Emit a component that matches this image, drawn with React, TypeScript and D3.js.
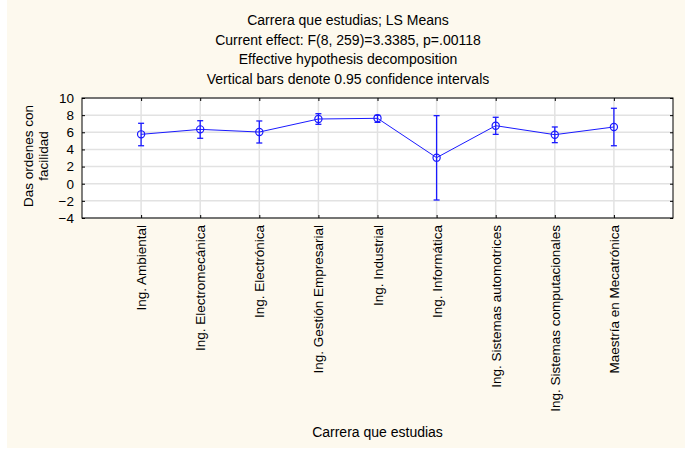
import React, { useEffect, useRef } from "react";
import * as d3 from "d3";

// categories + LS means with 0.95 CI
const carreras = [
  "Ing. Ambiental",
  "Ing. Electromecánica",
  "Ing. Electrónica",
  "Ing. Gestión Empresarial",
  "Ing. Industrial",
  "Ing. Informática",
  "Ing. Sistemas automotrices",
  "Ing. Sistemas computacionales",
  "Maestría en Mecatrónica",
];
const means = [5.76, 6.34, 6.03, 7.55, 7.63, 3.04, 6.77, 5.72, 6.62];
const upper = [7.05, 7.35, 7.32, 8.17, 7.98, 7.94, 7.75, 6.62, 8.8];
const lower = [4.43, 5.3, 4.75, 6.93, 7.16, -1.9, 5.76, 4.79, 4.43];
const yTicks = [-4, -2, 0, 2, 4, 6, 8, 10];
const titleLines = [
  "Carrera que estudias; LS Means",
  "Current effect: F(8, 259)=3.3385, p=.00118",
  "Effective hypothesis decomposition",
  "Vertical bars denote 0.95 confidence intervals",
];

export default function App() {
  const ref = useRef<SVGSVGElement>(null);

  useEffect(() => {
    const svg = d3.select(ref.current);
    svg.selectAll("*").remove();

    const width = 685;
    const height = 449;
    const margin = { top: 98, right: 12, bottom: 231, left: 82 };
    const w = width - margin.left - margin.right;
    const h = height - margin.top - margin.bottom;
    const font = "'Liberation Sans', Arial, sans-serif";
    const fs = 13.5;
    const blue = "#1a1aff";

    // cream background
    svg.append("rect")
      .attr("x", 7).attr("y", 0)
      .attr("width", width - 7).attr("height", 448)
      .attr("fill", "#fdf9ee");

    // titles (centred a bit left of the plot, like the original)
    svg.selectAll(".title")
      .data(titleLines)
      .enter().append("text")
      .attr("x", 348)
      .attr("y", (d, i) => 25 + i * 19.6)
      .attr("text-anchor", "middle")
      .attr("font-family", font)
      .attr("font-size", 14)
      .text(d => d);

    const g = svg.append("g")
      .attr("transform", `translate(${margin.left}, ${margin.top})`);

    const x = d3.scalePoint<string>()
      .domain(carreras)
      .range([0, w])
      .padding(1);

    const y = d3.scaleLinear()
      .domain([-4, 10])
      .range([h, 0]);

    g.append("rect")
      .attr("width", w).attr("height", h)
      .attr("fill", "white");

    // grid
    g.selectAll(".hgrid")
      .data(yTicks)
      .enter().append("line")
      .attr("x1", 0).attr("x2", w)
      .attr("y1", d => y(d)).attr("y2", d => y(d))
      .attr("stroke", "#e2e2e2")
      .attr("stroke-width", 1.5);

    g.selectAll(".vgrid")
      .data(carreras)
      .enter().append("line")
      .attr("x1", d => x(d)!).attr("x2", d => x(d)!)
      .attr("y1", 0).attr("y2", h)
      .attr("stroke", "#e2e2e2")
      .attr("stroke-width", 1.5);

    // axes, ticks pointing inward
    const yAxis = g.append("g").call(d3.axisRight(y).tickValues(yTicks).tickSize(3).tickFormat(() => ""));
    yAxis.select(".domain").remove();

    const yLabels = g.append("g").call(d3.axisLeft(y).tickValues(yTicks).tickSize(0).tickPadding(8));
    yLabels.select(".domain").remove();
    yLabels.selectAll("text")
      .attr("font-family", font)
      .attr("font-size", fs)
      .attr("fill", "black");

    const yRight = g.append("g")
      .attr("transform", `translate(${w},0)`)
      .call(d3.axisLeft(y).tickValues(yTicks).tickSize(3).tickFormat(() => ""));
    yRight.select(".domain").remove();

    const xTop = g.append("g")
      .call(d3.axisBottom(x).tickSize(3).tickFormat(() => ""));
    xTop.select(".domain").remove();

    const xAxis = g.append("g")
      .attr("transform", `translate(0,${h})`)
      .call(d3.axisTop(x).tickSize(3).tickFormat(() => ""));
    xAxis.select(".domain").remove();

    g.append("g")
      .attr("transform", `translate(0,${h})`)
      .selectAll("text")
      .data(carreras)
      .enter().append("text")
      .attr("transform", d => `translate(${x(d)! + 5},7) rotate(-90)`)
      .attr("text-anchor", "end")
      .attr("font-family", font)
      .attr("font-size", fs)
      .text(d => d);

    g.append("rect")
      .attr("width", w).attr("height", h)
      .attr("fill", "none")
      .attr("stroke", "black")
      .attr("stroke-width", 1);

    // the line through the means
    const line = d3.line<number>()
      .x((d, i) => x(carreras[i])!)
      .y(d => y(d));

    g.append("path")
      .datum(means)
      .attr("d", line)
      .attr("fill", "none")
      .attr("stroke", blue)
      .attr("stroke-width", 1);

    // error bars
    const bars = g.selectAll(".err")
      .data(carreras)
      .enter().append("g");

    bars.append("line")
      .attr("x1", d => x(d)!).attr("x2", d => x(d)!)
      .attr("y1", (d, i) => y(upper[i])).attr("y2", (d, i) => y(lower[i]))
      .attr("stroke", blue).attr("stroke-width", 1.3);
    bars.append("line")
      .attr("x1", d => x(d)! - 3).attr("x2", d => x(d)! + 3)
      .attr("y1", (d, i) => y(upper[i])).attr("y2", (d, i) => y(upper[i]))
      .attr("stroke", blue).attr("stroke-width", 1.3);
    bars.append("line")
      .attr("x1", d => x(d)! - 3).attr("x2", d => x(d)! + 3)
      .attr("y1", (d, i) => y(lower[i])).attr("y2", (d, i) => y(lower[i]))
      .attr("stroke", blue).attr("stroke-width", 1.3);
    bars.append("circle")
      .attr("cx", d => x(d)!)
      .attr("cy", (d, i) => y(means[i]))
      .attr("r", 3.6)
      .attr("fill", "none")
      .attr("stroke", blue)
      .attr("stroke-width", 1.2);

    // axis titles
    svg.append("text")
      .attr("x", margin.left + w / 2)
      .attr("y", 437)
      .attr("text-anchor", "middle")
      .attr("font-family", font)
      .attr("font-size", 14)
      .text("Carrera que estudias");

    const yt = svg.append("text")
      .attr("transform", `translate(33, ${margin.top + h / 2 - 2}) rotate(-90)`)
      .attr("text-anchor", "middle")
      .attr("font-family", font)
      .attr("font-size", fs);
    yt.append("tspan").attr("x", 0).attr("y", 0).text("Das ordenes con");
    yt.append("tspan").attr("x", 0).attr("y", 15).text("facilidad");
  }, []);

  return (
    <svg ref={ref} width={685} height={449}
      style={{ position: "absolute", left: 0, top: 0 }} />
  );
}
